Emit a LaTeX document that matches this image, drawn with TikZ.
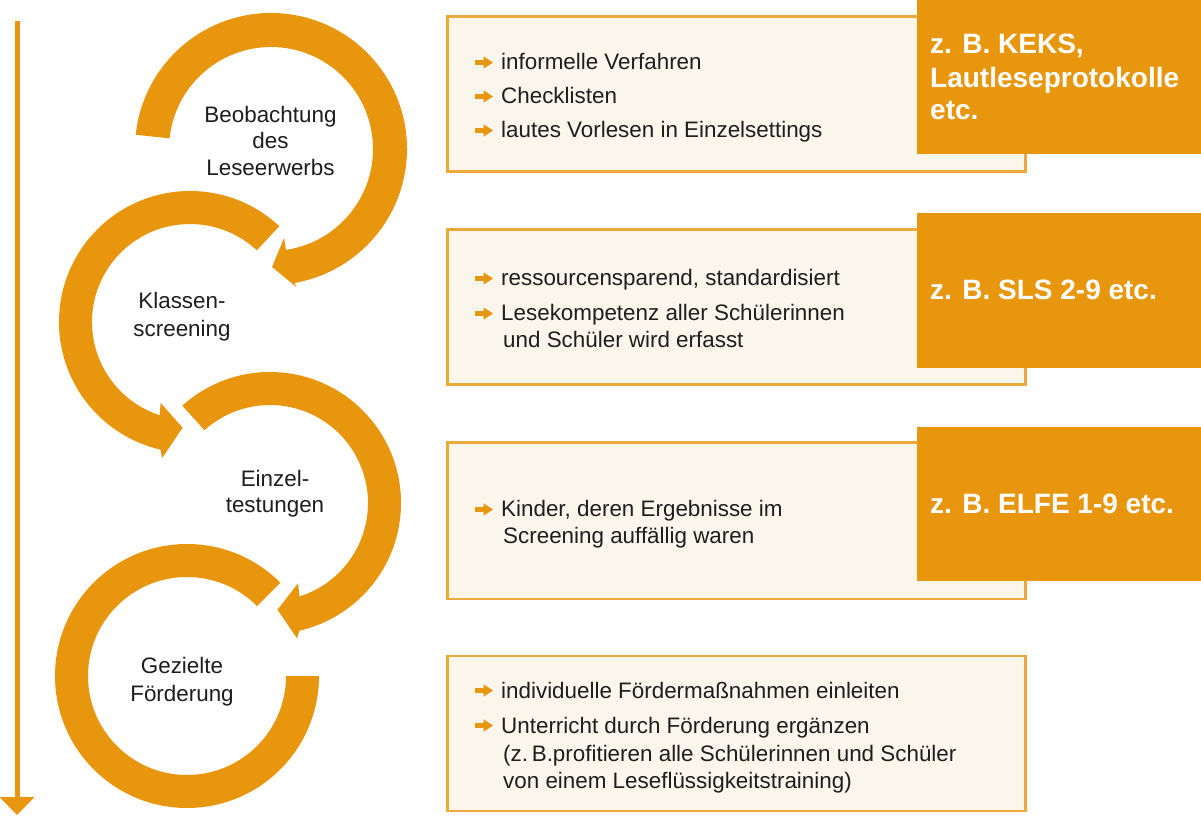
\documentclass[tikz,border=0pt]{standalone}
\usepackage{fontspec}
\setmainfont{Liberation Sans}
\usetikzlibrary{calc,arrows.meta}
\definecolor{orng}{RGB}{232,150,14}
\definecolor{boxfill}{RGB}{250,246,236}
\definecolor{boxline}{RGB}{237,168,58}
\definecolor{txtc}{RGB}{30,30,30}
\begin{document}
\begin{tikzpicture}[x=1pt,y=1pt,
  lbox/.style={fill=boxfill, draw=boxline, line width=2.5pt, inner sep=0pt, anchor=south west},
  dbox/.style={fill=orng, inner sep=0pt, anchor=south west},
  ring/.style={fill=orng},
  txt/.style={inner sep=0pt, anchor=base west, text=txtc, font=\fontsize{22.4}{28}\selectfont},
  lbl/.style={inner sep=0pt, anchor=base, text=txtc, font=\fontsize{22.4}{28}\selectfont},
  dtxt/.style={inner sep=0pt, anchor=base west, text=white, font=\fontsize{28}{33}\selectfont\bfseries},
  bul/.pic={\fill[orng] (0,-2.8) rectangle (10,2.8); \fill[orng] (8.5,-6.2) -- (18,0) -- (8.5,6.2) -- cycle;}
]
\useasboundingbox (0,0) rectangle (1201,817);
\fill[white] (0,0) rectangle (1201,817);

% timeline arrow
\coordinate (atop) at (17,796);
\coordinate (abot) at (17,2);
\draw[orng, line width=5pt, -{Triangle[width=34pt,length=18pt]}] (atop) -- (abot);

% light boxes
\node[lbox, minimum width=578pt, minimum height=155pt] (box1) at (446,644) {};
\node[lbox, minimum width=578pt, minimum height=155pt] (box2) at (446,431) {};
\node[lbox, minimum width=578pt, minimum height=156pt] (box3) at (446,217) {};
\node[lbox, minimum width=578pt, minimum height=155pt] (box4) at (446,5) {};

% dark boxes
\node[dbox, minimum width=284pt, minimum height=154pt] (d1) at (917,663) {};
\node[dbox, minimum width=284pt, minimum height=155pt] (d2) at (917,449) {};
\node[dbox, minimum width=284pt, minimum height=154pt] (d3) at (917,236) {};

% ring centres
\coordinate (C1) at (271,668);
\coordinate (C2) at (190,495);
\coordinate (C3) at (270,314);
\coordinate (C4) at (187,141);

% ring 1 (clockwise)
\fill[orng] ($(C1)+(174:136pt)$) arc[start angle=174, end angle=-80, radius=136pt]
  -- ($(C1)+(-79.7:140pt)$) -- ($(C1)+(-89.5:118pt)$) -- ($(C1)+(-81.7:90pt)$)
  -- ($(C1)+(-81.5:102pt)$) arc[start angle=-81.5, end angle=174, radius=102pt] -- cycle;
% ring 2 (counter-clockwise)
\fill[orng] ($(C2)+(47:131pt)$) arc[start angle=47, end angle=257, radius=131pt]
  -- ($(C2)+(258.4:139pt)$) -- ($(C2)+(266:106pt)$) -- ($(C2)+(250:86pt)$)
  -- ($(C2)+(252:98pt)$) arc[start angle=252, end angle=47, radius=98pt] -- cycle;
% ring 3 (clockwise)
\fill[orng] ($(C3)+(132:131pt)$) arc[start angle=132, end angle=-77, radius=131pt]
  -- ($(C3)+(-78.7:138pt)$) -- ($(C3)+(-86:107pt)$) -- ($(C3)+(-70.7:85pt)$)
  -- ($(C3)+(-72.5:98pt)$) arc[start angle=-72.5, end angle=132, radius=98pt] -- cycle;
% ring 4 (counter-clockwise, no head)
\fill[orng] ($(C4)+(45:132pt)$) arc[start angle=45, end angle=360, radius=132pt]
  -- ($(C4)+(0:99pt)$) arc[start angle=360, end angle=45, radius=99pt] -- cycle;

% ring labels
\node[lbl] (l1a) at (270.5,694) {Beobachtung};
\node[lbl] (l1b) at (270.5,668) {des};
\node[lbl] (l1c) at (270.5,641) {Leseerwerbs};
\node[lbl] (l2a) at (182,508) {Klassen-};
\node[lbl] (l2b) at (182,480) {screening};
\node[lbl] (l3a) at (275,330) {Einzel-};
\node[lbl] (l3b) at (275,304) {testungen};
\node[lbl] (l4a) at (182,144) {Gezielte};
\node[lbl] (l4b) at (182,116) {Förderung};

% box 1
\pic at (475,754.5) {bul};
\node[txt] (t1a) at (501,747) {informelle Verfahren};
\pic at (475,720.5) {bul};
\node[txt] (t1b) at (501,713) {Checklisten};
\pic at (475,686.5) {bul};
\node[txt] (t1c) at (501,679) {lautes Vorlesen in Einzelsettings};
% box 2
\pic at (475,538.5) {bul};
\node[txt] (t2a) at (501,531) {ressourcensparend, standardisiert};
\pic at (475,503.5) {bul};
\node[txt] (t2b) at (501,496) {Lesekompetenz aller Schülerinnen};
\node[txt] (t2c) at (503,469) {und Schüler wird erfasst};
% box 3
\pic at (475,307.5) {bul};
\node[txt] (t3a) at (501,300) {Kinder, deren Ergebnisse im};
\node[txt] (t3b) at (503,273) {Screening auffällig waren};
% box 4
\pic at (475,126.5) {bul};
\node[txt] (t4a) at (501,119) {individuelle Fördermaßnahmen einleiten};
\pic at (475,91.5) {bul};
\node[txt] (t4b) at (501,84) {Unterricht durch Förderung ergänzen};
\node[txt] (t4c) at (503,56) {(z.\,B.profitieren alle Schülerinnen und Schüler};
\node[txt] (t4d) at (503,29) {von einem Leseflüssigkeitstraining)};

% dark box texts
\node[dtxt] (e1a) at (930,763) {z. B. KEKS,};
\node[dtxt] (e1b) at (930,729) {Lautleseprotokolle};
\node[dtxt] (e1c) at (930,697) {etc.};
\node[dtxt] (e2) at (930,517) {z. B. SLS 2-9 etc.};
\node[dtxt] (e3) at (930,303) {z. B. ELFE 1-9 etc.};
\end{tikzpicture}
\end{document}
